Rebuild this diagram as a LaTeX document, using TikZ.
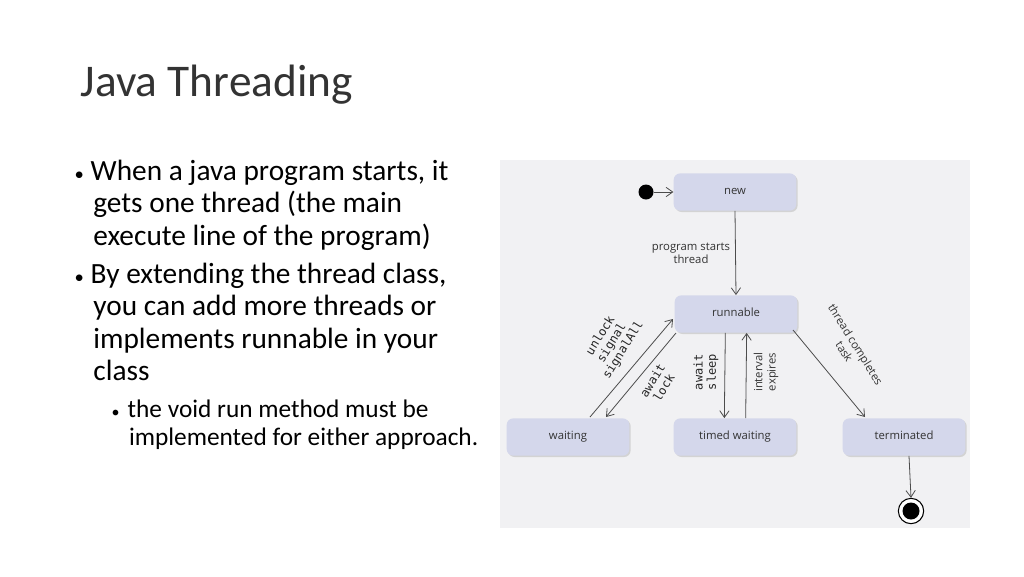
\documentclass[tikz,border=0pt]{standalone}
\usepackage{fontspec}
\setmainfont{Carlito}
\newfontfamily\diag{Open Sans}
\newfontfamily\dmono{DejaVu Sans Mono}
\usetikzlibrary{arrows.meta,shadows}
\begin{document}
\begin{tikzpicture}[x=0.75pt,y=-0.75pt,
  st/.style={draw=none,fill=statefill,rounded corners=5pt,minimum width=92pt,minimum height=28pt,text height=6pt,text depth=2pt,font=\diag\fontsize{8.5}{9}\selectfont,text=black!80,drop shadow={shadow xshift=1pt,shadow yshift=-1pt,fill=black!25,opacity=.6}},
  tr/.style={draw=black!70,line width=0.6pt,-{Straight Barb[length=5pt,width=7pt]}},
  lab/.style={font=\diag\fontsize{8.5}{10}\selectfont,text=black!80,align=center},
  mlab/.style={font=\dmono\fontsize{9}{10}\selectfont,text=black!85,align=center}]
\definecolor{statefill}{HTML}{D4D7EB}
\definecolor{panel}{HTML}{F1F1F3}
\useasboundingbox (0,0) rectangle (1024,576);
\fill[white] (0,0) rectangle (1024,576);
\node[anchor=west,font=\fontsize{34}{40}\selectfont,text=black!80] (title) at (76,85) {Java Threading};
\node[anchor=north west,font=\fontsize{22}{24.4}\selectfont,align=left] (b1) at (70,155) {%
{\fontsize{14}{14}\selectfont\textbullet}\hspace{5pt}When a java program starts, it\\
\hspace*{14pt}gets one thread (the main\\
\hspace*{14pt}execute line of the program)\\[4pt]
{\fontsize{14}{14}\selectfont\textbullet}\hspace{5pt}By extending the thread class,\\
\hspace*{14pt}you can add more threads or\\
\hspace*{14pt}implements runnable in your\\
\hspace*{14pt}class};
\node[anchor=north west,font=\fontsize{19}{21}\selectfont,align=left] (b2) at (107,395) {%
{\fontsize{12}{12}\selectfont\textbullet}\hspace{6pt}the void run method must be\\
\hspace*{13pt}implemented for either approach.};
\fill[panel] (500,160) rectangle (970,528);
\node[st] (new) at (735,192) {new};
\node[st] (run) at (736,314) {runnable};
\node[st] (wait) at (568,437) {waiting};
\node[st] (tw) at (735,437) {timed waiting};
\node[st] (term) at (904,437) {terminated};
\fill[black] (646,192) circle (7.5) coordinate (start);
\node[circle,draw=black,line width=0.8pt,fill=white,minimum size=19pt,inner sep=0pt] (end) at (911,511) {};
\fill[black] (end) circle (8.5);
\draw[tr] (start) ++(8,0) -- (new.west);
\draw[tr] (new.south) -- (run.north);
\node[lab] (l1) at (691,253) {program starts\\thread};
\coordinate (u1) at (590,417); \coordinate (u2) at (673,319);
\coordinate (d1) at (676,333); \coordinate (d2) at (606,417);
\draw[tr] (u1) -- (u2);
\draw[tr] (d1) -- (d2);
\node[mlab,rotate=58] (l2) at (612,343) {unlock\\signal\\signalAll};
\node[mlab,rotate=58] (l3) at (658,384) {await\\lock};
\draw[tr] ([xshift=-8pt]run.south) -- ([xshift=-8pt]tw.north);
\draw[tr] ([xshift=8pt]tw.north) -- ([xshift=8pt]run.south);
\node[mlab,rotate=90] (l4) at (706,372) {await\\sleep};
\node[lab,rotate=90] (l5) at (766,372) {interval\\expires};
\coordinate (t1) at (793,330); \coordinate (t2) at (865,417);
\draw[tr] (t1) -- (t2);
\node[lab,rotate=-58] (l6) at (850,348) {thread completes\\task};
\draw[tr] (term.south) ++(5,0) -- (end.north);
\end{tikzpicture}
\end{document}
